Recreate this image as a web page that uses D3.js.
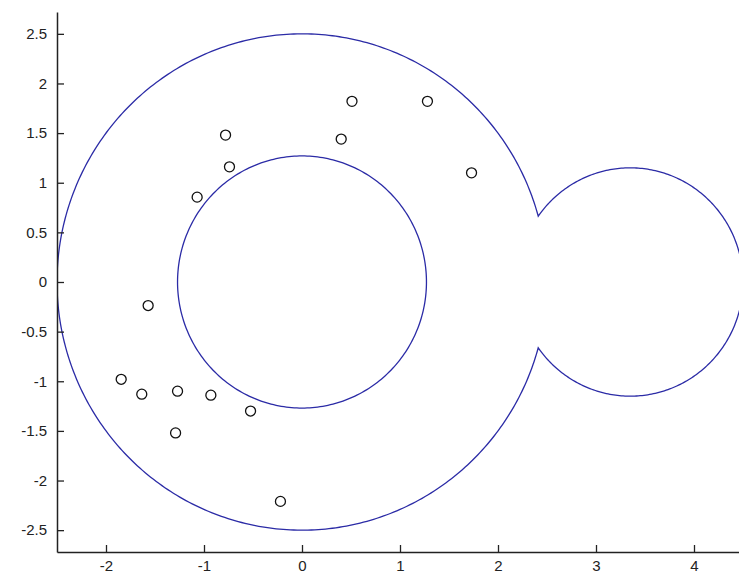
<!DOCTYPE html>
<html>
<head>
<meta charset="utf-8">
<script src="https://cdn.jsdelivr.net/npm/d3@7"></script>
<style>
  html, body { margin: 0; padding: 0; background: #fff; overflow: hidden; }
  svg { display: block; }
  .tick text { font-family: "Liberation Sans", Arial, sans-serif; font-size: 15px; fill: #222; }
</style>
</head>
<body>
<svg id="chart" width="739" height="581"></svg>
<script>
// Axis ticks
const xTicks = [-2, -1, 0, 1, 2, 3, 4];
const yTicks = [-2.5, -2, -1.5, -1, -0.5, 0, 0.5, 1, 1.5, 2, 2.5];

// Region boundary: big disk joined to a smaller lobe on the right, with a hole in the middle
const outerCircle = { cx: 0, cy: 0, r: 2.5 };
const lobeCircle  = { cx: 3.35, cy: 0, r: 1.15 };
const innerCircle = { cx: 0, cy: 0, r: 1.27 };

// Sample points
const pointX = [0.51, 1.28, -0.78, 0.40, -0.74, 1.73, -1.07, -1.57, -1.845, -1.635, -1.27, -0.93, -0.525, -1.29, -0.22];
const pointY = [1.82, 1.82, 1.48, 1.44, 1.16, 1.10, 0.855, -0.237, -0.98, -1.13, -1.10, -1.14, -1.30, -1.52, -2.21];

const svg = d3.select("#chart");
const plotL = 57, plotR = 743, plotT = 12, plotB = 552;

const x = d3.scaleLinear().domain([-2.5, 4.5]).range([plotL, plotR]);
const y = d3.scaleLinear().domain([-2.72, 2.72]).range([plotB, plotT]);

const lineColor = "#2b2ba6";
const tickText = v => String(v);   // plain hyphen-minus for negatives

svg.append("defs").append("clipPath").attr("id", "plot")
  .append("rect").attr("x", plotL).attr("y", plotT)
  .attr("width", plotR - plotL).attr("height", plotB - plotT);

const g = svg.append("g").attr("clip-path", "url(#plot)");

// Where the big circle meets the lobe
const d = lobeCircle.cx - outerCircle.cx;
const ix = (d * d + outerCircle.r * outerCircle.r - lobeCircle.r * lobeCircle.r) / (2 * d);
const iy = Math.sqrt(outerCircle.r * outerCircle.r - ix * ix);
const a0 = Math.atan2(iy, ix);                       // on the big circle
const b0 = Math.atan2(iy, ix - lobeCircle.cx);       // on the lobe

const line = d3.line().x(p => x(p[0])).y(p => y(p[1]));
const arcPts = (c, from, to, n) =>
  d3.range(n + 1).map(i => {
    const t = from + (to - from) * i / n;
    return [c.cx + c.r * Math.cos(t), c.cy + c.r * Math.sin(t)];
  });

const boundary = arcPts(outerCircle, a0, 2 * Math.PI - a0, 400)
  .concat(arcPts(lobeCircle, -b0, b0, 300));

g.append("path")
  .attr("d", line(boundary) + "Z")
  .attr("fill", "none")
  .attr("stroke", lineColor)
  .attr("stroke-width", 1.3);

g.append("path")
  .attr("d", line(arcPts(innerCircle, 0, 2 * Math.PI, 300)) + "Z")
  .attr("fill", "none")
  .attr("stroke", lineColor)
  .attr("stroke-width", 1.3);

// Markers
g.selectAll("circle.pt")
  .data(pointX.map((v, i) => [v, pointY[i]]))
  .join("circle")
  .attr("class", "pt")
  .attr("cx", p => x(p[0]))
  .attr("cy", p => y(p[1]))
  .attr("r", 5)
  .attr("fill", "none")
  .attr("stroke", "#111")
  .attr("stroke-width", 1.3);

// Axes with inward ticks
const xAxis = svg.append("g")
  .attr("transform", `translate(0,${plotB})`)
  .call(d3.axisBottom(x).tickValues(xTicks).tickSizeInner(-7).tickSizeOuter(0)
        .tickPadding(8).tickFormat(tickText));
const yAxis = svg.append("g")
  .attr("transform", `translate(${plotL},0)`)
  .call(d3.axisLeft(y).tickValues(yTicks).tickSizeInner(-7).tickSizeOuter(0)
        .tickPadding(10).tickFormat(tickText));

[xAxis, yAxis].forEach(ax => {
  ax.select(".domain").attr("stroke", "#222").attr("stroke-width", 1.5);
  ax.selectAll(".tick line").attr("stroke", "#222").attr("stroke-width", 1.3);
});
</script>
</body>
</html>
